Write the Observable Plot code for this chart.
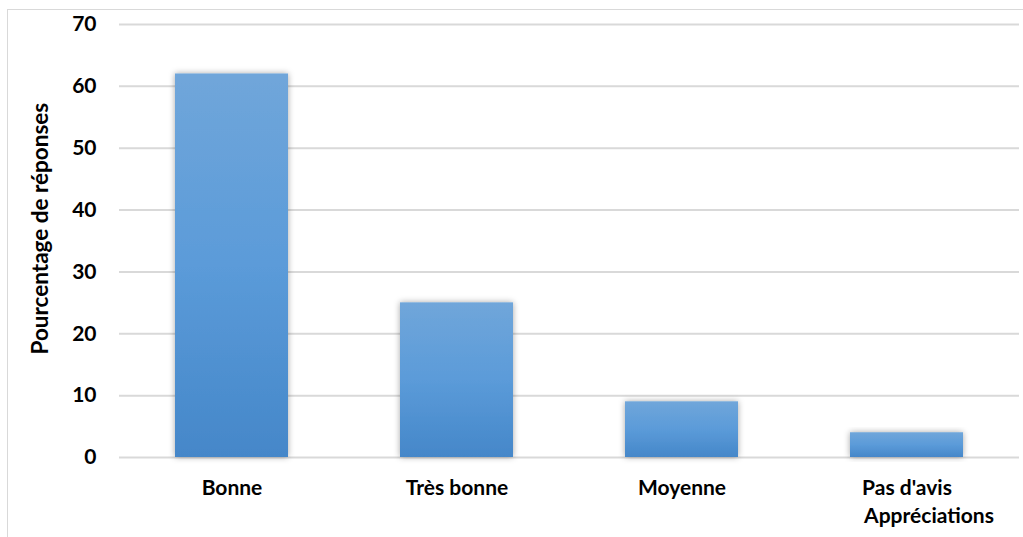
<!DOCTYPE html>
<html>
<head>
<meta charset="utf-8">
<script src="https://cdn.jsdelivr.net/npm/d3@7"></script>
<script src="https://cdn.jsdelivr.net/npm/@observablehq/plot@0.6"></script>
<style>
  html, body { margin: 0; padding: 0; background: #fff; }
  #chart { position: relative; width: 1023px; height: 537px; }
</style>
</head>
<body>
<div id="chart"></div>
<script>
const categories = ["Bonne", "Très bonne", "Moyenne", "Pas d'avis"];
const values = [62, 25, 9, 4];
const yTicks = [0, 10, 20, 30, 40, 50, 60, 70];
const yLabel = "Pourcentage de réponses";
const xLabel = "Appréciations";

const data = categories.map((c, i) => ({category: c, value: values[i]}));
const font = "Lato, 'Open Sans', sans-serif";

const chart = Plot.plot({
  width: 1023,
  height: 537,
  marginLeft: 119,
  marginRight: 4,
  marginTop: 24,
  marginBottom: 80,
  style: {fontFamily: font, background: "white", overflow: "visible"},
  x: {domain: categories, paddingInner: 0.5, paddingOuter: 0.25, label: null},
  y: {domain: [0, 70], ticks: yTicks, label: null},
  marks: [
    Plot.gridY(yTicks, {stroke: "#d9d9d9", strokeOpacity: 1, strokeWidth: 2}),
    Plot.barY(data, {x: "category", y: "value", fill: "url(#barGrad)"}),
    Plot.axisY(yTicks, {tickSize: 0, tickPadding: 23, fontSize: 21, fontWeight: "bold", fill: "#000", label: null}),
    Plot.axisX({tickSize: 0, tickPadding: 23, fontSize: 21, fontWeight: "bold", fill: "#000", label: null}),
    Plot.text([yLabel], {frameAnchor: "left", y: () => 37, dx: -79, rotate: -90, textAnchor: "middle", fontSize: 22.5, fontWeight: "bold", fill: "#000"}),
    Plot.text([xLabel], {x: () => "Pas d'avis", y: () => 0, dy: 59, dx: 22, fontSize: 21, fontWeight: "bold", fill: "#000"})
  ]
});

const svg = d3.select(chart);
const defs = svg.insert("defs", ":first-child");
const grad = defs.append("linearGradient").attr("id", "barGrad").attr("x1", 0).attr("y1", 0).attr("x2", 0).attr("y2", 1);
grad.append("stop").attr("offset", "0%").attr("stop-color", "#70a6da");
grad.append("stop").attr("offset", "50%").attr("stop-color", "#5b9bd9");
grad.append("stop").attr("offset", "100%").attr("stop-color", "#4587c9");
const filt = defs.append("filter").attr("id", "barShadow").attr("x", "-20%").attr("y", "-20%").attr("width", "140%").attr("height", "140%");
filt.append("feDropShadow").attr("dx", 0).attr("dy", 0).attr("stdDeviation", 3).attr("flood-color", "#000").attr("flood-opacity", 0.35);
svg.selectAll("g[aria-label='bar'] rect").attr("filter", "url(#barShadow)");
svg.insert("rect", "defs + *").attr("x", 7.5).attr("y", 9.5).attr("width", 1030).attr("height", 540)
  .attr("fill", "none").attr("stroke", "#d9d9d9").attr("stroke-width", 1);

document.getElementById("chart").appendChild(chart);
</script>
</body>
</html>
